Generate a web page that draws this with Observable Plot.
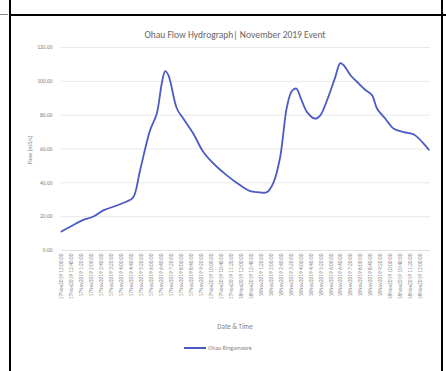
<!DOCTYPE html>
<html>
<head>
<meta charset="utf-8">
<script src="https://cdn.jsdelivr.net/npm/d3@7"></script>
<script src="https://cdn.jsdelivr.net/npm/@observablehq/plot@0.6"></script>
<style>
  html, body { margin: 0; padding: 0; background: #fff; }
  #wrap { position: relative; width: 446px; height: 371px; overflow: hidden; font-family: Carlito, "Liberation Sans", Calibri, sans-serif; }
  .abs { position: absolute; }
  #title { top: 29px; left: 0; width: 470px; text-align: center; font-size: 9.5px; color: #666; }
  #xlabel { top: 322px; left: 0; width: 470px; text-align: center; font-size: 7px; color: #7f7f7f; }
  #ylabel { top: 146px; left: 0; width: 60px; text-align: center; font-size: 6px; color: #7f7f7f; transform-origin: 30px 4px; transform: rotate(-90deg); }
  #legend { top: 344px; left: 184px; font-size: 6px; color: #7f7f7f; display: flex; align-items: center; gap: 2px; }
  #legend .sw { width: 22px; height: 2px; background: #4a5bc4; }
  .bl { background: #000; }
</style>
</head>
<body>
<div id="wrap">
  <div id="chart" class="abs" style="top:0;left:0"></div>
  <div id="title" class="abs">Ohau Flow Hydrograph| November 2019 Event</div>
  <div id="ylabel" class="abs">Flow (m3/s)</div>
  <div id="xlabel" class="abs">Date &amp; Time</div>
  <div id="legend" class="abs"><span class="sw"></span><span>Ohau Ringamaore</span></div>
  <div class="abs bl" style="top:14px;left:10px;width:436px;height:2px"></div>
  <div class="abs" style="top:14px;left:0;width:8px;height:1px;background:#888"></div>
  <div class="abs bl" style="top:0;left:9px;width:2px;height:371px"></div>
  <div class="abs bl" style="top:0;left:441px;width:2px;height:371px"></div>
</div>
<script>
// minutes since 17 Nov 2019 12:00:00
const minutes = [0, 40, 81, 128, 168, 222, 262, 288, 315, 355, 382, 402, 416, 429, 463, 489, 529, 569, 610, 663, 717, 757, 784, 824, 851, 877, 904, 924, 942, 958, 985, 1018, 1038, 1065, 1098, 1118, 1132, 1159, 1186, 1218, 1246, 1266, 1299, 1333, 1373, 1413, 1447, 1473];
const flows   = [11.2, 14.5, 17.7, 20.1, 23.7, 26.6, 29.0, 31.5, 47.3, 71.0, 80.9, 98.6, 106.0, 103.5, 83.8, 77.9, 69.0, 58.2, 51.3, 44.4, 38.5, 35.1, 34.5, 34.5, 40.4, 55.2, 84.8, 94.3, 95.7, 90.7, 81.8, 77.9, 79.9, 88.8, 102.5, 110.8, 109.5, 103.6, 99.6, 95.0, 91.7, 83.8, 77.9, 72.0, 70.0, 68.6, 64.1, 59.6];

const tickMinutes = d3.range(0, 1441, 40);
const tickLabels = [
  "17Nov2019 12:00:00", "17Nov2019 12:40:00", "17Nov2019 1:20:00", "17Nov2019 2:00:00",
  "17Nov2019 2:40:00", "17Nov2019 3:20:00", "17Nov2019 4:00:00", "17Nov2019 4:40:00",
  "17Nov2019 5:20:00", "17Nov2019 6:00:00", "17Nov2019 6:40:00", "17Nov2019 7:20:00",
  "17Nov2019 8:00:00", "17Nov2019 8:40:00", "17Nov2019 9:20:00", "17Nov2019 10:00:00",
  "17Nov2019 10:40:00", "17Nov2019 11:20:00", "18Nov2019 12:00:00", "18Nov2019 12:40:00",
  "18Nov2019 1:20:00", "18Nov2019 2:00:00", "18Nov2019 2:40:00", "18Nov2019 3:20:00",
  "18Nov2019 4:00:00", "18Nov2019 4:40:00", "18Nov2019 5:20:00", "18Nov2019 6:00:00",
  "18Nov2019 6:40:00", "18Nov2019 7:20:00", "18Nov2019 8:00:00", "18Nov2019 8:40:00",
  "18Nov2019 9:20:00", "18Nov2019 10:00:00", "18Nov2019 10:40:00", "18Nov2019 11:20:00",
  "18Nov2019 12:00:00"
];
const yTicks = [0, 20, 40, 60, 80, 100, 120];

const data = minutes.map((m, i) => ({m, q: flows[i]}));
const labelOf = new Map(tickMinutes.map((m, i) => [m, tickLabels[i]]));

const chart = Plot.plot({
  width: 446,
  height: 371,
  marginTop: 47,
  marginBottom: 121,
  marginLeft: 61,
  marginRight: 16,
  style: {fontFamily: 'Carlito, "Liberation Sans", sans-serif', color: "#7f7f7f", background: "transparent"},
  x: {domain: [0, 1480]},
  y: {domain: [0, 120]},
  marks: [
    Plot.gridY(yTicks.slice(1), {stroke: "#e3e3e3", strokeOpacity: 1, strokeWidth: 0.8}),
    Plot.ruleY([0], {stroke: "#d9d9d9", strokeWidth: 0.8}),
    Plot.axisY(yTicks, {tickSize: 0, tickPadding: 9, fontSize: 5.5, tickFormat: d => d.toFixed(2), label: null}),
    Plot.axisX(tickMinutes, {tickSize: 0, tickPadding: 3, tickRotate: -90, fontSize: 5.4,
      tickFormat: d => labelOf.get(d), label: null}),
    Plot.line(data, {x: "m", y: "q", stroke: "#4a5bc4", strokeWidth: 1.8, curve: "catmull-rom"})
  ]
});
document.getElementById("chart").appendChild(chart);
</script>
</body>
</html>
